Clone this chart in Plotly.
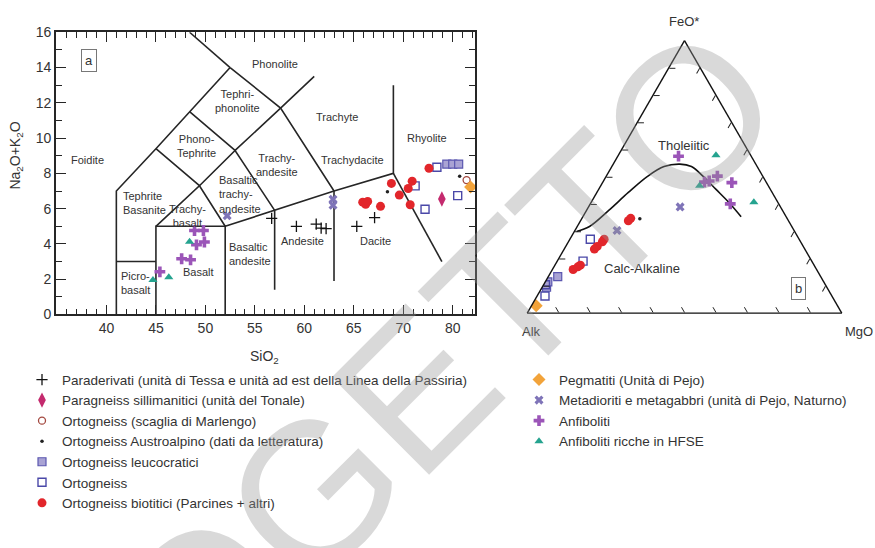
import plotly.graph_objects as go

W, H = 875, 548
FONT = "Liberation Sans, Arial, Helvetica, sans-serif"
INK = "#262626"

# ---------------- TAS diagram: SiO2 vs Na2O+K2O (wt%) ----------------
PARA_SIO2 = [56.7, 59.2, 61.2, 61.7, 62.2, 65.3, 67.1]
PARA_ALK = [5.45, 4.99, 5.12, 4.90, 4.87, 4.99, 5.49]

SILL_SIO2 = [73.9]
SILL_ALK = [6.55]

MARL_SIO2 = [76.4]
MARL_ALK = [7.62]

AUSTRO_SIO2 = [75.7, 68.4]
AUSTRO_ALK = [7.84, 6.96]

LEUCO_SIO2 = [74.4, 75.0, 75.6]
LEUCO_ALK = [8.53, 8.53, 8.53]

ORTO_SIO2 = [73.4, 71.2, 72.2, 75.5]
ORTO_ALK = [8.35, 7.29, 5.97, 6.74]

BIOT_SIO2 = [65.9, 66.2, 66.4, 67.7, 68.8, 69.6, 70.5, 70.9, 70.7, 72.6]
BIOT_ALK = [6.37, 6.25, 6.41, 6.13, 7.43, 6.77, 7.14, 7.56, 6.22, 8.29]

PEG_SIO2 = [76.8]
PEG_ALK = [7.23]

META_SIO2 = [52.2, 62.9, 62.9]
META_ALK = [5.60, 6.53, 6.20]

ANF_SIO2 = [48.9, 49.8, 49.1, 49.9, 47.6, 48.5, 45.4]
ANF_ALK = [4.76, 4.76, 3.95, 4.11, 3.16, 3.10, 2.42]

HFSE_SIO2 = [48.4, 44.7, 46.3]
HFSE_ALK = [4.13, 1.96, 2.11]

# TAS field boundaries (Le Bas et al. 1986), polylines of (SiO2, Na2O+K2O)
TAS_FIELDS = [
    [(41, 0), (41, 7), (45, 9.4), (48.4, 11.5), (52.5, 14)],
    [(52.5, 14), (48.4, 16)],
    [(41, 3), (45, 3)],
    [(45, 0), (45, 5), (52, 5), (52, 0)],
    [(45, 5), (49.4, 7.3), (52, 5)],
    [(45, 9.4), (49.4, 7.3), (53, 9.3), (57, 5.9)],
    [(48.4, 11.5), (53, 9.3), (57.6, 11.7), (61, 13.5)],
    [(52.5, 14), (57.6, 11.7), (63, 7)],
    [(52, 5), (57, 5.9), (63, 7), (69, 8), (69, 13)],
    [(57, 5.9), (57, 1.4)],
    [(63, 7), (63, 1.9)],
    [(69, 8), (73.9, 3.0)],
]

# Field names: (text, SiO2, Na2O+K2O, anchor)
TAS_NAMES = [
    ("Phonolite", 57.0, 14.2, "center"),
    ("Tephri-<br>phonolite", 53.2, 12.1, "center"),
    ("Trachyte", 63.3, 11.2, "center"),
    ("Rhyolite", 72.4, 10.0, "center"),
    ("Trachydacite", 64.9, 8.75, "center"),
    ("Trachy-<br>andesite", 57.2, 8.5, "center"),
    ("Phono-<br>Tephrite", 49.1, 9.55, "center"),
    ("Foidite", 38.1, 8.75, "center"),
    ("Tephrite<br>Basanite", 41.5, 6.3, "left"),
    ("Trachy-<br>basalt", 48.2, 5.6, "center"),
    ("Basaltic<br>trachy-<br>andesite", 51.2, 6.8, "left"),
    ("Basaltic<br>andesite", 52.2, 3.45, "left"),
    ("Andesite", 59.8, 4.17, "center"),
    ("Dacite", 67.2, 4.17, "center"),
    ("Basalt", 49.3, 2.42, "center"),
    ("Picro-<br>basalt", 41.3, 1.8, "left"),
]

SIO2_TICKS = [40, 45, 50, 55, 60, 65, 70, 75]
SIO2_TICKTEXT = ["40", "45", "50", "55", "60", "65", "70", "80"]

# ---------------- AFM diagram (FeO*, Alk, MgO) ----------------
BIOT_FEO = [33.9, 34.8, 27.1, 26.2, 24.5, 23.5, 17.6, 16.0, 17.0]
BIOT_MGO = [15.2, 15.5, 10.9, 10.8, 10.0, 9.6, 8.1, 6.6, 7.6]
BIOT_AK = [50.9, 49.7, 62.0, 63.0, 65.5, 66.9, 74.3, 77.4, 75.4]

AUSTRO_FEO = [34.6, 9.8]
AUSTRO_MGO = [18.5, 1.4]
AUSTRO_AK = [46.9, 88.8]

LEUCO_FEO = [13.4, 9.5, 11.5]
LEUCO_MGO = [3.0, 1.4, 0.8]
LEUCO_AK = [83.6, 89.1, 87.7]

ORTO_FEO = [27.1, 19.1, 6.3, 10.4]
ORTO_MGO = [6.5, 8.2, 2.5, 0.6]
ORTO_AK = [66.4, 72.7, 91.2, 89.0]

PEG_FEO = [2.7]
PEG_MGO = [1.5]
PEG_AK = [95.8]

META_FEO = [39.0, 30.3]
META_MGO = [29.1, 13.4]
META_AK = [31.9, 56.3]

ANF_FEO = [57.6, 48.1, 48.5, 50.3, 47.9, 40.1]
ANF_MGO = [19.3, 32.3, 33.6, 35.3, 41.1, 44.5]
ANF_AK = [23.1, 19.6, 17.9, 14.4, 11.0, 15.4]

HFSE_FEO = [58.0, 40.7, 46.8]
HFSE_MGO = [31.0, 51.7, 31.4]
HFSE_AK = [11.0, 7.6, 21.8]

# Tholeiitic / calc-alkaline divide (Irvine & Baragar 1971)
DIVIDE_FEO = [30.0, 31.8, 37.8, 44.3, 50.3, 53.8, 54.7, 53.8, 50.3, 45.5, 40.7, 35.4]
DIVIDE_MGO = [0.7, 3.9, 7.1, 10.0, 13.2, 16.6, 21.2, 25.3, 30.7, 37.2, 43.7, 50.3]
DIVIDE_AK = [69.3, 64.3, 55.1, 45.7, 36.5, 29.6, 24.1, 20.9, 19.0, 17.3, 15.6, 14.3]

# ---------------- series styling ----------------
GROUPS = [
    dict(name="Paraderivati (unità di Tessa e unità ad est della Linea della Passiria)",
         tas=(PARA_SIO2, PARA_ALK), afm=None, legend="legend",
         marker=dict(symbol="cross-thin", size=8, color="#111",
                     line=dict(color="#111", width=1.3))),
    dict(name="Paragneiss sillimanitici (unità del Tonale)",
         tas=(SILL_SIO2, SILL_ALK), afm=None, legend="legend",
         marker=dict(symbol="diamond-tall", size=11, color="#c42a6e")),
    dict(name="Ortogneiss (scaglia di Marlengo)",
         tas=(MARL_SIO2, MARL_ALK), afm=None, legend="legend",
         marker=dict(symbol="circle-open", size=7, color="#a3483f",
                     line=dict(width=1.3))),
    dict(name="Ortogneiss Austroalpino (dati da letteratura)",
         tas=(AUSTRO_SIO2, AUSTRO_ALK), afm=(AUSTRO_FEO, AUSTRO_AK, AUSTRO_MGO),
         legend="legend", marker=dict(symbol="circle", size=3.5, color="#222")),
    dict(name="Ortogneiss leucocratici",
         tas=(LEUCO_SIO2, LEUCO_ALK), afm=(LEUCO_FEO, LEUCO_AK, LEUCO_MGO),
         legend="legend",
         marker=dict(symbol="square", size=8, color="#a9a3d4",
                     line=dict(color="#5b57b0", width=1.2))),
    dict(name="Ortogneiss",
         tas=(ORTO_SIO2, ORTO_ALK), afm=(ORTO_FEO, ORTO_AK, ORTO_MGO),
         legend="legend",
         marker=dict(symbol="square-open", size=8, color="#4a48a8",
                     line=dict(width=1.4))),
    dict(name="Ortogneiss biotitici (Parcines + altri)",
         tas=(BIOT_SIO2, BIOT_ALK), afm=(BIOT_FEO, BIOT_AK, BIOT_MGO),
         legend="legend", marker=dict(symbol="circle", size=9, color="#e2262b")),
    dict(name="Pegmatiti (Unità di Pejo)",
         tas=(PEG_SIO2, PEG_ALK), afm=(PEG_FEO, PEG_AK, PEG_MGO),
         legend="legend2", marker=dict(symbol="diamond", size=10, color="#f2a33a")),
    dict(name="Metadioriti e metagabbri (unità di Pejo, Naturno)",
         tas=(META_SIO2, META_ALK), afm=(META_FEO, META_AK, META_MGO),
         legend="legend2", marker=dict(symbol="x", size=8, color="#7f74b8")),
    dict(name="Anfiboliti",
         tas=(ANF_SIO2, ANF_ALK), afm=(ANF_FEO, ANF_AK, ANF_MGO),
         legend="legend2", marker=dict(symbol="cross", size=9, color="#9b55b8")),
    dict(name="Anfiboliti ricche in HFSE",
         tas=(HFSE_SIO2, HFSE_ALK), afm=(HFSE_FEO, HFSE_AK, HFSE_MGO),
         legend="legend2", marker=dict(symbol="triangle-up", size=8, color="#25a38f")),
]

fig = go.Figure()

# TAS field boundaries
for seg in TAS_FIELDS:
    fig.add_trace(go.Scatter(
        x=[p[0] for p in seg], y=[p[1] for p in seg], mode="lines",
        line=dict(color=INK, width=1.6), showlegend=False, hoverinfo="skip",
        xaxis="x", yaxis="y"))

# AFM divide
fig.add_trace(go.Scatterternary(
    a=DIVIDE_FEO, b=DIVIDE_AK, c=DIVIDE_MGO, mode="lines",
    line=dict(color="#111", width=1.6, shape="spline"),
    showlegend=False, hoverinfo="skip", subplot="ternary"))

for g in GROUPS:
    sx, sy = g["tas"]
    fig.add_trace(go.Scatter(
        x=sx, y=sy, mode="markers", name=g["name"], marker=g["marker"],
        legendgroup=g["name"], legend=g["legend"], showlegend=True,
        xaxis="x", yaxis="y"))
    if g["afm"] is not None:
        fa, fb, fc = g["afm"]
        fig.add_trace(go.Scatterternary(
            a=fa, b=fb, c=fc, mode="markers", name=g["name"], marker=g["marker"],
            legendgroup=g["name"], showlegend=False, subplot="ternary"))

axis_font = dict(family=FONT, size=14, color="#333")
tern_axis = dict(showticklabels=False, ticks="inside", ticklen=6, dtick=10,
                 showgrid=False, linecolor="#111", linewidth=1.4,
                 tickcolor="#222", tickwidth=1.1, title=dict(text=""))
legend_font = dict(family=FONT, size=13.5, color="#333")

fig.update_layout(
    width=W, height=H, autosize=False,
    margin=dict(l=0, r=0, t=0, b=0),
    paper_bgcolor="white", plot_bgcolor="white",
    font=dict(family=FONT, color="#333"),
    xaxis=dict(
        domain=[56 / W, 475 / W], range=[34.9, 77.25], anchor="y",
        tickmode="array", tickvals=SIO2_TICKS, ticktext=SIO2_TICKTEXT,
        ticks="inside", ticklen=10, tickwidth=1.3, tickcolor=INK,
        minor=dict(dtick=1, tick0=0, ticks="inside", ticklen=6,
                   tickwidth=1.1, tickcolor=INK),
        showline=True, linecolor=INK, linewidth=1.6, mirror="ticks",
        showgrid=False, zeroline=False, tickfont=axis_font),
    yaxis=dict(
        domain=[1 - 315.7 / H, 1 - 25 / H], range=[0, 16], anchor="x",
        tick0=0, dtick=2,
        ticks="inside", ticklen=10, tickwidth=1.3, tickcolor=INK,
        minor=dict(dtick=1, tick0=0, ticks="inside", ticklen=6,
                   tickwidth=1.1, tickcolor=INK),
        showline=True, linecolor=INK, linewidth=1.6, mirror="ticks",
        showgrid=False, zeroline=False, tickfont=axis_font),
    ternary=dict(
        domain=dict(x=[522.5 / W, 846.5 / W], y=[1 - 314.3 / H, 1 - 33.7 / H]),
        sum=100, bgcolor="white",
        aaxis=tern_axis, baxis=tern_axis, caxis=tern_axis,
    ),
    legend=dict(x=22 / W, y=1 - 367 / H, xanchor="left", yanchor="top",
                font=legend_font, bgcolor="rgba(0,0,0,0)",
                tracegroupgap=0, itemwidth=30),
    legend2=dict(x=519 / W, y=1 - 367 / H, xanchor="left", yanchor="top",
                 font=legend_font, bgcolor="rgba(0,0,0,0)",
                 tracegroupgap=0, itemwidth=30),
)

ann = []
for text, sx, sy, anchor in TAS_NAMES:
    ann.append(dict(x=sx, y=sy, xref="x", yref="y", text=text, showarrow=False,
                    xanchor=anchor, yanchor="middle", align=anchor,
                    font=dict(family=FONT, size=11, color="#333")))


def label(text, px, py, size=13, **kw):
    d = dict(x=px / W, y=1 - py / H, xref="paper", yref="paper", showarrow=False,
             text=text, xanchor="center", yanchor="middle",
             font=dict(family=FONT, size=size, color="#333"))
    d.update(kw)
    return d


ann += [
    label("SiO<sub>2</sub>", 264, 360, size=14),
    label("Na<sub>2</sub>O+K<sub>2</sub>O", 16, 152, size=14, textangle=-90),
    label("a", 89, 54, bordercolor="#777", borderwidth=1, borderpad=3),
    label("b", 798, 289, bordercolor="#777", borderwidth=1, borderpad=3),
    label("FeO*", 684, 14),
    label("Alk", 531, 333),
    label("MgO", 843, 333, xanchor="left"),
    label("Tholeiitic", 684, 142),
    label("Calc-Alkaline", 642, 268),
    # watermark across both panels
    label("OGETTO", 446, 362, textangle=-45,
          font=dict(family=FONT, size=200, color="rgba(150,150,150,0.36)")),
]
fig.update_layout(annotations=ann)

fig.write_html("out.html")
